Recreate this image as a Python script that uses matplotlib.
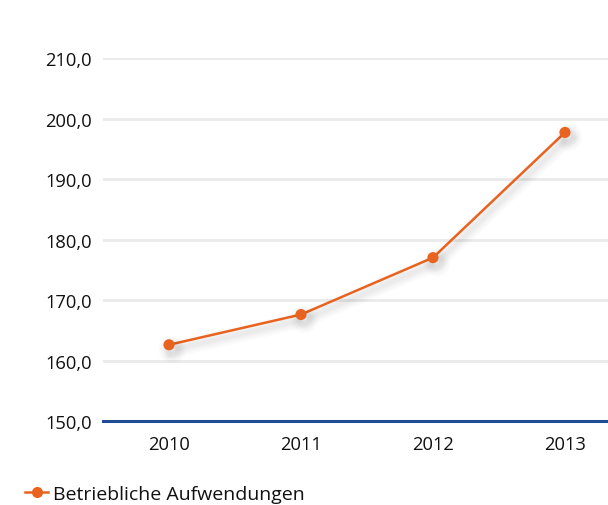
import matplotlib
matplotlib.use("Agg")
import matplotlib.pyplot as plt
import matplotlib.patheffects as pe
from matplotlib.ticker import FuncFormatter

years = ["2010", "2011", "2012", "2013"]
aufwendungen = [162.6, 167.6, 177.0, 197.7]
y_ticks = [150, 160, 170, 180, 190, 200, 210]
series_name = "Betriebliche Aufwendungen"

orange = "#E8631F"
navy = "#1F4C94"
grid_col = "#EAEAEA"
text_col = "#111111"

plt.rcParams["font.family"] = ["Open Sans", "DejaVu Sans"]

fig = plt.figure(figsize=(6.08, 5.06), dpi=100)
ax = fig.add_axes([103 / 608, 1 - 422 / 506, 1 - 103 / 608, (422 - 59) / 506])

# soft grey drop shadow built from several faint offset strokes
shadow = [pe.SimpleLineShadow(offset=(2.5, -3.5), shadow_color="#000000", alpha=a, rho=0.0,
                              linewidth=lw)
          for lw, a in [(12, 0.015), (9, 0.018), (6, 0.02), (3.5, 0.022)]]

x = list(range(len(years)))
ax.plot(x, aufwendungen, color=orange, lw=1.8, marker="o", ms=8,
        markeredgewidth=0, label=series_name, zorder=3,
        path_effects=shadow + [pe.Normal()])

ax.set_xlim(-0.5, 3.326)
ax.set_ylim(150, 210)
ax.set_yticks(y_ticks)
ax.yaxis.set_major_formatter(FuncFormatter(lambda v, p: f"{v:.1f}".replace(".", ",")))
ax.set_xticks(x)
ax.set_xticklabels(years)

ax.grid(axis="y", color=grid_col, lw=2)
ax.set_axisbelow(True)
for s in ["top", "right", "left"]:
    ax.spines[s].set_visible(False)
ax.spines["bottom"].set_color(navy)
ax.spines["bottom"].set_linewidth(2.2)
ax.spines["bottom"].set_zorder(4)

ax.tick_params(axis="y", length=0, pad=8, labelsize=13.2, labelcolor=text_col)
ax.tick_params(axis="x", length=0, pad=10, labelsize=13.2, labelcolor=text_col)

leg = fig.legend(loc="center left", bbox_to_anchor=(0.041, 1 - 495 / 506), frameon=False,
                 fontsize=14, handlelength=1.2, handletextpad=0.25, borderaxespad=0,
                 borderpad=0, labelcolor=text_col)
for h in leg.legend_handles:
    h.set_path_effects([])

fig.savefig("out.png", dpi=100)
